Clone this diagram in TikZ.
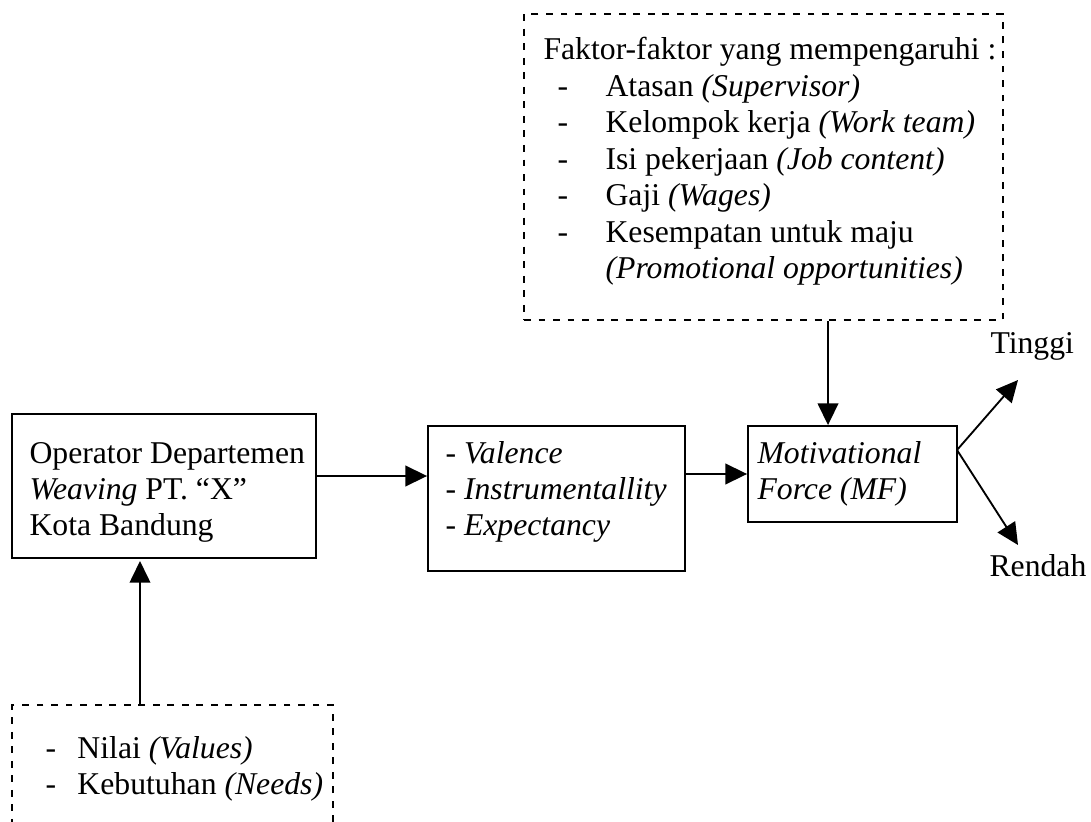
\documentclass[tikz,border=0pt]{standalone}
\usepackage{fontspec}
\setmainfont{Liberation Serif}
\usetikzlibrary{arrows.meta,fit}
\tikzset{
  box/.style={draw, line width=0.7pt, inner sep=0pt},
  dbox/.style={draw, line width=0.7pt, inner sep=0pt, dash pattern=on 2.6pt off 2.9pt},
  txt/.style={anchor=base west, inner sep=0pt, font=\fontsize{12}{13.8}\selectfont},
  arr/.style={line width=0.7pt, -{Triangle[width=7.8pt,length=8.2pt]}}
}
\newcommand{\itm}[1]{\makebox[12.1pt][l]{-}#1}
\begin{document}
\begin{tikzpicture}[x=0.3785pt,y=-0.3785pt]
\useasboundingbox (0,0) rectangle (1091,821);
\clip (0,0) rectangle (1091,821);
% boxes
\node[dbox, fit={(524,14) (1003,320)}] (fak) {};
\node[box, fit={(12,414) (316,558)}] (op) {};
\node[box, fit={(428,426) (685,571)}] (mid) {};
\node[box, fit={(748,426) (957,522)}] (mf) {};
\node[dbox, fit={(12,705) (333,850)}] (nb) {};
% texts
\node[txt] (faktxt) at (543,60) {\parbox[t]{190pt}{\raggedright
Faktor-faktor yang mempengaruhi :\\
\hspace*{5.3pt}\makebox[18.2pt][l]{-}Atasan \textit{(Supervisor)}\\
\hspace*{5.3pt}\makebox[18.2pt][l]{-}Kelompok kerja \textit{(Work team)}\\
\hspace*{5.3pt}\makebox[18.2pt][l]{-}Isi pekerjaan \textit{(Job content)}\\
\hspace*{5.3pt}\makebox[18.2pt][l]{-}Gaji \textit{(Wages)}\\
\hspace*{5.3pt}\makebox[18.2pt][l]{-}Kesempatan untuk maju\\
\hspace*{23.5pt}\textit{(Promotional opportunities)}}};
\node[txt] (optxt) at (29,463) {\parbox[t]{120pt}{\raggedright
Operator Departemen\\
\textit{Weaving} PT. ``X''\\
Kota Bandung}};
\node[txt] (midtxt) at (445,463) {\parbox[t]{100pt}{\raggedright
- \textit{Valence}\\
- \textit{Instrumentallity}\\
- \textit{Expectancy}}};
\node[txt] (mftxt) at (757,463) {\parbox[t]{80pt}{\raggedright
\textit{Motivational}\\
\textit{Force (MF)}}};
\node[txt] (nbtxt) at (45,758) {\parbox[t]{120pt}{\raggedright
\itm{Nilai \textit{(Values)}}\\
\itm{Kebutuhan \textit{(Needs)}}}};
\node[txt] (tinggi) at (990,353) {Tinggi};
\node[txt] (rendah) at (989,576) {Rendah};
% connectors
\coordinate (xf) at (828,0);
\coordinate (yo) at (0,476);
\coordinate (xn) at (140,0);
\coordinate (fork) at (957,450);
\coordinate (tt) at (1018,380);
\coordinate (rt) at (1018,545);
\coordinate (opin) at (140,561);
\draw[arr] (xf |- fak.south) -- (xf |- mf.north);
\draw[arr] (op.east |- yo) -- (mid.west |- yo);
\draw[arr] (mid.east |- mf.west) -- (mf.west);
\draw[arr] (xn |- nb.north) -- (opin);
\draw[arr] (fork) -- (tt);
\draw[arr] (fork) -- (rt);
\end{tikzpicture}
\end{document}
